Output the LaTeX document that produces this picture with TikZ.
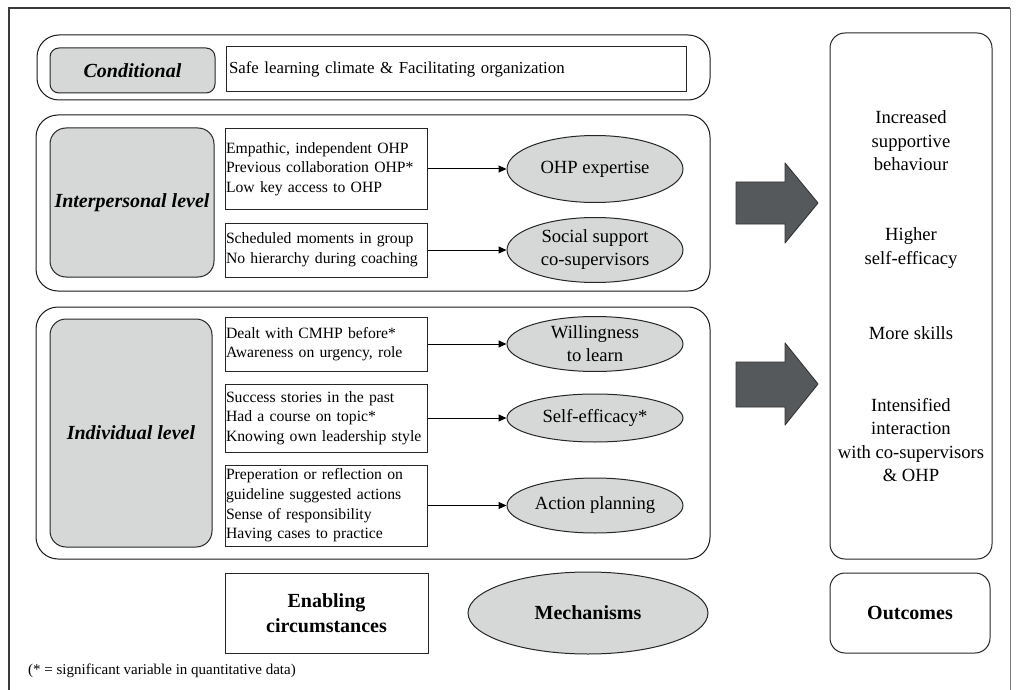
\documentclass[tikz,border=0pt]{standalone}
\usepackage{fontspec}
\setmainfont{Liberation Serif}
\usetikzlibrary{shapes.geometric,arrows.meta}
\definecolor{boxgray}{HTML}{D6D8D8}
\definecolor{arrowgray}{HTML}{55595B}
\definecolor{framegray}{HTML}{3A3A3A}
\newcommand\nobreakwords{\hyphenpenalty=10000\relax}

\tikzset{
  group/.style={draw=black!90, line width=1pt, rounded corners=22pt, inner sep=0pt},
  levelbox/.style={draw=black!85, fill=boxgray, line width=1pt, inner sep=0pt,
    font=\fontsize{20}{24}\selectfont\bfseries\itshape},
  factorbox/.style={draw=black!85, line width=1pt, inner xsep=1pt, inner ysep=0pt,
    align=left, font=\nobreakwords\fontsize{15.7}{19.6}\selectfont,
    text width=200pt, minimum width=202pt},
  mech/.style={ellipse, draw=black!85, fill=boxgray, line width=1pt, inner sep=0pt,
    minimum width=176pt, align=center, font=\fontsize{18.6}{23}\selectfont},
  link/.style={-{Triangle[length=8pt,width=7pt]}, line width=1pt},
  bigarrow/.style={draw=black!80, fill=arrowgray, line width=0.9pt, line join=round},
  outtext/.style={align=center, font=\fontsize{18.6}{23.5}\selectfont},
  legendtext/.style={align=center, font=\fontsize{20}{25}\selectfont\bfseries},
}

\begin{document}
\begin{tikzpicture}[x=1pt, y=-1pt]
\useasboundingbox (0,0) rectangle (1018,690);

% page frame
\draw[framegray, line width=2.6pt] (9,700) -- (9,8) -- (1010,8);
\draw[gray, line width=0.8pt] (1010,8) -- (1010,700);

% conditional row
\node[group, minimum width=673pt, minimum height=65pt] (condgroup) at (373.5,67.5) {};
\node[levelbox, rounded corners=9pt, minimum width=165pt, minimum height=45pt] (cond) at (132.5,70.5) {Conditional};
\node[draw=black!85, line width=1pt, inner xsep=3pt, align=left, text width=454pt,
  minimum height=45pt, font=\fontsize{16.8}{20}\selectfont] (climate) at (456,69.5)
  {Safe learning climate \& Facilitating organization};

% interpersonal level
\node[group, minimum width=674pt, minimum height=176pt] (intergroup) at (373,203) {};
\node[levelbox, rounded corners=16pt, minimum width=164pt, minimum height=149pt] (inter) at (132,202.5) {Interpersonal level};
\node[factorbox, minimum height=80pt] (f1) at (326,169)
  {Empathic, independent OHP\\Previous collaboration OHP*\\Low key access to OHP};
\node[factorbox, minimum height=54pt] (f2) at (326,250)
  {Scheduled moments in group\\No hierarchy during coaching};
\node[mech, minimum height=67pt] (m1) at (595,169) {OHP expertise};
\node[mech, minimum height=65pt] (m2) at (595,250) {Social support\\co-supervisors};
\draw[link] (f1.east) -- (m1.west);
\draw[link] (f2.east) -- (m2.west);

% individual level
\node[group, minimum width=674pt, minimum height=252pt] (indgroup) at (373,433) {};
\node[levelbox, rounded corners=16pt, minimum width=162pt, minimum height=228pt] (ind) at (131,433) {Individual level};
\node[factorbox, minimum height=54pt] (f3) at (326,344)
  {Dealt with CMHP before*\\Awareness on urgency, role};
\node[factorbox, minimum height=68pt] (f4) at (326,418)
  {Success stories in the past\\Had a course on topic*\\Knowing own leadership style};
\node[factorbox, minimum height=81pt] (f5) at (326,505.5)
  {Preperation or reflection on\\guideline suggested actions\\Sense of responsibility\\Having cases to practice};
\node[mech, minimum height=55pt] (m3) at (595,344) {Willingness\\to learn};
\node[mech, minimum height=48pt] (m4) at (595,418) {Self-efficacy*};
\node[mech, minimum height=55pt] (m5) at (595,505.5) {Action planning};
\draw[link] (f3.east) -- (m3.west);
\draw[link] (f4.east) -- (m4.west);
\draw[link] (f5.east) -- (m5.west);

% block arrows towards the outcomes
\draw[bigarrow] (736,182) -- (785,182) -- (785,163) -- (818,203) -- (785,243) -- (785,224) -- (736,224) -- cycle;
\draw[bigarrow] (736,362) -- (785,362) -- (785,343) -- (818,384) -- (785,425) -- (785,407) -- (736,407) -- cycle;

% outcomes column
\node[draw=black!85, line width=1pt, rounded corners=15pt, minimum width=162pt, minimum height=526pt] (outcol) at (911,296) {};
\node[outtext] (o1) at (911,141) {Increased\\supportive\\behaviour};
\node[outtext] (o2) at (911,248) {Higher\\self-efficacy};
\node[outtext] (o3) at (911,333) {More skills};
\node[outtext] (o4) at (911,440) {Intensified\\interaction\\with co-supervisors\\\& OHP};

% legend
\node[legendtext, draw=black!85, line width=1pt, minimum width=203pt, minimum height=80pt] (enab) at (326.5,613) {Enabling\\circumstances};
\node[legendtext, ellipse, draw=black!85, fill=boxgray, line width=1pt, inner sep=0pt, minimum width=240pt, minimum height=82pt] (mechs) at (588,613) {Mechanisms};
\node[legendtext, draw=black!85, line width=1pt, rounded corners=15pt, minimum width=160pt, minimum height=80pt] (outs) at (910,613) {Outcomes};

\node[anchor=west, inner sep=0pt, font=\fontsize{15}{18}\selectfont] (note) at (28,671)
  {(* = significant variable in quantitative data)};
\end{tikzpicture}
\end{document}
